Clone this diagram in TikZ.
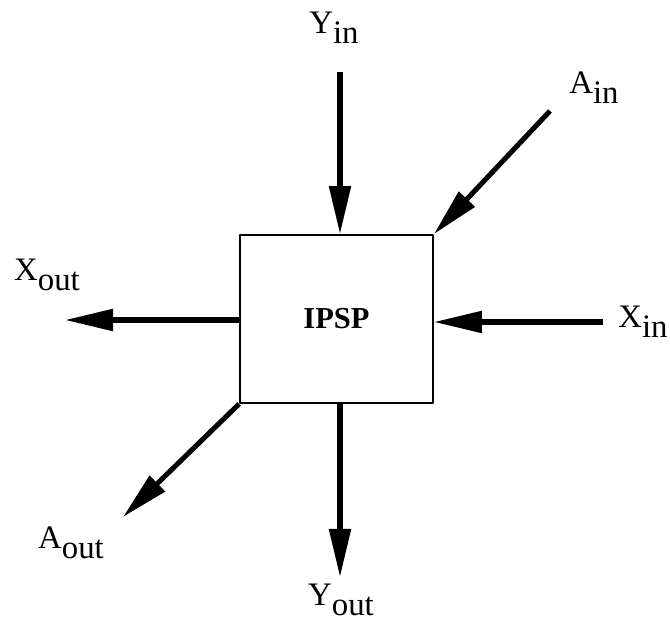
\documentclass[tikz,border=0pt]{standalone}
\usepackage{fontspec}
\setmainfont{Liberation Serif}
\usetikzlibrary{arrows.meta}
\newcommand{\sig}[2]{#1\raisebox{-.3em}{#2}}
\begin{document}
\begin{tikzpicture}[x=0.03cm,y=-0.03cm,line join=round,
		>={Triangle[length=41pt,width=18pt]},
		flow/.style={->,line width=4.3pt},
		lbl/.style={inner sep=0pt,font=\fontsize{28}{32}\selectfont}]
			\useasboundingbox (0,0) rectangle (670,622);
			\node[draw,line width=1.6pt,minimum width=5.79cm,minimum height=5.04cm,
				font=\fontsize{26}{30}\selectfont\bfseries] (ipsp) at (336.5,319) {IPSP};
			\coordinate (yin) at (340,72);
			\coordinate (ain) at (550,111);
			\coordinate (xin) at (603,322);
			\coordinate (xout) at (65,320);
			\coordinate (aout) at (123,517);
			\coordinate (yout) at (340,577);
			\draw[flow] (yin) -- (yin |- ipsp.north);
			\draw[flow] (ain) -- (ipsp.north east);
			\draw[flow] (xin) -- (xin -| ipsp.east);
			\draw[flow] (xout -| ipsp.west) -- (xout);
			\draw[flow] (ipsp.south west) -- (aout);
			\draw[flow] (yout |- ipsp.south) -- (yout);
			\node[lbl] (yinl) at (334,28) {\sig{Y}{in}};
			\node[lbl] (ainl) at (594,88) {\sig{A}{in}};
			\node[lbl] (xinl) at (643,322) {\sig{X}{in}};
			\node[lbl] (xoutl) at (47,275) {\sig{X}{out}};
			\node[lbl] (aoutl) at (71,543) {\sig{A}{out}};
			\node[lbl] (youtl) at (341,600) {\sig{Y}{out}};
		\end{tikzpicture}
\end{document}
